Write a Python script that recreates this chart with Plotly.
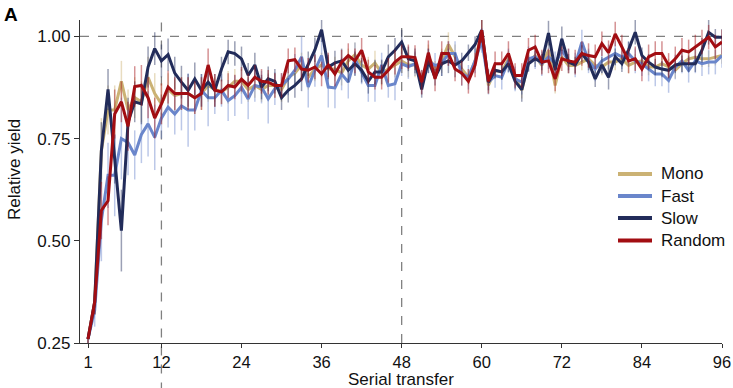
import plotly.graph_objects as go

transfers = list(range(1, 97))

mono = [0.26, 0.35, 0.72, 0.82, 0.82, 0.89, 0.82, 0.85, 0.84, 0.90,
        0.86, 0.835, 0.87, 0.855, 0.86, 0.86, 0.85, 0.86, 0.88, 0.87,
        0.865, 0.875, 0.89, 0.89, 0.87, 0.88, 0.87, 0.88, 0.88, 0.87,
        0.90, 0.91, 0.93, 0.90, 0.92, 0.93, 0.92, 0.92, 0.91, 0.94,
        0.955, 0.93, 0.92, 0.935, 0.91, 0.92, 0.93, 0.94, 0.93, 0.93,
        0.89, 0.95, 0.92, 0.94, 0.98, 0.95, 0.92, 0.90, 0.94, 1.01,
        0.88, 0.917, 0.913, 0.945, 0.90, 0.868, 0.937, 0.953, 0.929, 0.966,
        0.88, 0.95, 0.929, 0.929, 0.937, 0.945, 0.929, 0.925, 0.937, 0.937,
        0.945, 0.929, 0.937, 0.94, 0.925, 0.925, 0.933, 0.925, 0.917, 0.933,
        0.945, 0.949, 0.945, 0.945, 0.949, 0.953]

fast = [0.26, 0.33, 0.55, 0.66, 0.66, 0.75, 0.74, 0.71, 0.76, 0.786,
        0.753, 0.80, 0.827, 0.81, 0.83, 0.82, 0.82, 0.868, 0.85, 0.85,
        0.868, 0.843, 0.855, 0.875, 0.847, 0.88, 0.876, 0.847, 0.872, 0.88,
        0.896, 0.917, 0.95, 0.876, 0.917, 0.953, 0.876, 0.874, 0.908, 0.888,
        0.945, 0.913, 0.88, 0.88, 0.93, 0.88, 0.884, 0.933, 0.926, 0.933,
        0.888, 0.94, 0.929, 0.933, 0.958, 0.958, 0.909, 0.90, 0.94, 0.99,
        0.888, 0.904, 0.90, 0.94, 0.896, 0.888, 0.945, 0.95, 0.933, 0.95,
        0.933, 0.966, 0.94, 0.93, 0.986, 0.94, 0.92, 0.94, 0.95, 0.958,
        0.95, 0.958, 0.94, 0.933, 0.92, 0.908, 0.908, 0.892, 0.925, 0.94,
        0.917, 0.94, 0.933, 0.937, 0.937, 0.953]

slow = [0.26, 0.35, 0.72, 0.87, 0.70, 0.525, 0.79, 0.84, 0.835, 0.925,
        0.97, 0.94, 0.955, 0.91, 0.888, 0.868, 0.896, 0.868, 0.888, 0.868,
        0.92, 0.962, 0.958, 0.945, 0.905, 0.93, 0.876, 0.896, 0.89, 0.85,
        0.868, 0.88, 0.896, 0.933, 0.967, 1.016, 0.925, 0.935, 0.94, 0.917,
        0.933, 0.917, 0.89, 0.913, 0.913, 0.95, 0.966, 0.986, 0.945, 0.94,
        0.87, 0.94, 0.90, 0.933, 0.94, 0.93, 0.94, 0.96, 0.98, 1.015,
        0.888, 0.917, 0.913, 0.933, 0.89, 0.87, 0.933, 0.945, 0.937, 1.008,
        0.917, 0.994, 0.937, 0.93, 0.958, 0.937, 0.896, 0.93, 0.90, 0.95,
        0.933, 0.967, 1.01, 0.953, 0.937, 0.925, 0.92, 0.917, 0.93, 0.933,
        0.933, 0.933, 0.966, 1.01, 0.998, 0.998]

random_ = [0.26, 0.35, 0.574, 0.598, 0.81, 0.84, 0.78, 0.877, 0.88, 0.85,
           0.80, 0.835, 0.876, 0.86, 0.86, 0.86, 0.85, 0.86, 0.93, 0.868,
           0.864, 0.88, 0.876, 0.895, 0.88, 0.90, 0.89, 0.888, 0.88, 0.88,
           0.94, 0.943, 0.92, 0.917, 0.925, 0.908, 0.93, 0.908, 0.937, 0.953,
           0.94, 0.966, 0.913, 0.90, 0.90, 0.917, 0.937, 0.95, 0.95, 0.948,
           0.888, 0.96, 0.896, 0.958, 0.958, 0.92, 0.91, 0.89, 0.93, 1.015,
           0.89, 0.933, 0.933, 0.958, 0.904, 0.904, 0.966, 0.974, 0.937, 0.94,
           0.896, 0.945, 0.94, 0.937, 0.958, 0.953, 0.95, 0.982, 0.96, 1.006,
           0.974, 0.94, 0.945, 0.92, 0.95, 0.958, 0.958, 0.929, 0.945, 0.966,
           0.962, 0.974, 0.986, 0.998, 0.974, 0.986]

mono_err = [0.01, 0.03, 0.08, 0.06, 0.06, 0.05, 0.05, 0.05, 0.05, 0.05,
            0.05, 0.05, 0.04, 0.04, 0.04, 0.04, 0.04, 0.04, 0.04, 0.03,
            0.03, 0.04, 0.03, 0.03, 0.03, 0.03, 0.03, 0.03, 0.03, 0.03,
            0.03, 0.03, 0.03, 0.03, 0.03, 0.03, 0.03, 0.03, 0.03, 0.03,
            0.03, 0.03, 0.03, 0.03, 0.03, 0.03, 0.03, 0.03, 0.03, 0.03,
            0.02, 0.03, 0.02, 0.03, 0.03, 0.03, 0.02, 0.02, 0.02, 0.03,
            0.02, 0.02, 0.02, 0.02, 0.02, 0.02, 0.02, 0.02, 0.02, 0.02,
            0.02, 0.02, 0.02, 0.02, 0.02, 0.02, 0.02, 0.02, 0.02, 0.02,
            0.02, 0.02, 0.02, 0.02, 0.02, 0.02, 0.02, 0.02, 0.02, 0.02,
            0.02, 0.02, 0.02, 0.02, 0.02, 0.02]

fast_err = [0.01, 0.04, 0.10, 0.08, 0.10, 0.10, 0.08, 0.06, 0.07, 0.08,
            0.08, 0.05, 0.05, 0.05, 0.06, 0.09, 0.05, 0.04, 0.07, 0.04,
            0.04, 0.05, 0.05, 0.04, 0.05, 0.04, 0.04, 0.06, 0.04, 0.03,
            0.04, 0.04, 0.05, 0.05, 0.04, 0.04, 0.05, 0.05, 0.04, 0.04,
            0.04, 0.03, 0.04, 0.04, 0.03, 0.03, 0.04, 0.03, 0.03, 0.03,
            0.03, 0.03, 0.03, 0.03, 0.03, 0.03, 0.03, 0.03, 0.03, 0.03,
            0.03, 0.03, 0.03, 0.03, 0.03, 0.03, 0.03, 0.03, 0.03, 0.03,
            0.03, 0.03, 0.03, 0.03, 0.03, 0.03, 0.03, 0.03, 0.03, 0.03,
            0.03, 0.03, 0.03, 0.03, 0.03, 0.03, 0.03, 0.03, 0.03, 0.03,
            0.03, 0.03, 0.03, 0.03, 0.03, 0.03]

slow_err = [0.01, 0.03, 0.07, 0.05, 0.06, 0.10, 0.06, 0.05, 0.05, 0.05,
            0.04, 0.04, 0.04, 0.04, 0.04, 0.04, 0.04, 0.04, 0.04, 0.04,
            0.03, 0.03, 0.03, 0.03, 0.03, 0.03, 0.03, 0.03, 0.03, 0.03,
            0.03, 0.03, 0.03, 0.03, 0.03, 0.03, 0.03, 0.03, 0.03, 0.03,
            0.03, 0.03, 0.03, 0.03, 0.03, 0.03, 0.03, 0.03, 0.03, 0.03,
            0.02, 0.03, 0.02, 0.03, 0.03, 0.03, 0.02, 0.02, 0.02, 0.03,
            0.02, 0.02, 0.02, 0.02, 0.02, 0.03, 0.02, 0.02, 0.02, 0.03,
            0.02, 0.03, 0.02, 0.02, 0.02, 0.02, 0.02, 0.02, 0.03, 0.02,
            0.02, 0.02, 0.03, 0.02, 0.02, 0.02, 0.02, 0.02, 0.02, 0.02,
            0.02, 0.02, 0.03, 0.03, 0.02, 0.02]

random_err = [0.01, 0.03, 0.07, 0.06, 0.06, 0.05, 0.06, 0.05, 0.05, 0.05,
              0.05, 0.05, 0.04, 0.04, 0.04, 0.04, 0.04, 0.04, 0.04, 0.04,
              0.03, 0.03, 0.03, 0.03, 0.03, 0.03, 0.03, 0.03, 0.03, 0.03,
              0.03, 0.03, 0.03, 0.03, 0.03, 0.03, 0.03, 0.03, 0.03, 0.03,
              0.03, 0.03, 0.03, 0.03, 0.03, 0.03, 0.03, 0.03, 0.03, 0.03,
              0.03, 0.03, 0.03, 0.03, 0.03, 0.03, 0.03, 0.03, 0.03, 0.03,
              0.03, 0.03, 0.03, 0.03, 0.03, 0.03, 0.03, 0.03, 0.03, 0.03,
              0.03, 0.03, 0.03, 0.03, 0.03, 0.03, 0.03, 0.03, 0.03, 0.03,
              0.03, 0.03, 0.03, 0.03, 0.03, 0.03, 0.03, 0.03, 0.03, 0.03,
              0.03, 0.03, 0.03, 0.03, 0.03, 0.03]

x_ticks = [1, 12, 24, 36, 48, 60, 72, 84, 96]
y_ticks = [0.25, 0.50, 0.75, 1.00]

series = [
    ("Mono", mono, mono_err, "#CBB274", "rgba(203,178,116,0.45)"),
    ("Fast", fast, fast_err, "#6A86CB", "rgba(106,134,203,0.45)"),
    ("Slow", slow, slow_err, "#222C5A", "rgba(34,44,90,0.45)"),
    ("Random", random_, random_err, "#A20D12", "rgba(162,13,18,0.45)"),
]

# figure geometry (pixels) used to place the hand-made legend
W, H = 733, 388
ML, MR, MT, MB = 80, 11, 20, 45
PW, PH = W - ML - MR, H - MT - MB


def px_x(p):
    return (p - ML) / PW


def px_y(p):
    return (H - MB - p) / PH


fig = go.Figure()
for name, vals, errs, col, ecol in series:
    fig.add_trace(go.Scatter(
        x=transfers, y=vals, name=name, mode="lines",
        line=dict(color=col, width=3), showlegend=False,
        error_y=dict(type="data", array=errs, visible=True,
                     color=ecol, thickness=1.5, width=0),
    ))

dash_col = "#808080"
fig.add_shape(type="line", xref="paper", yref="y", x0=0, x1=1, y0=1.0, y1=1.0,
              line=dict(color=dash_col, width=1.3, dash="dash"), layer="below")
fig.add_shape(type="line", xref="x", yref="paper", x0=12, x1=12, y0=-0.15, y1=1,
              line=dict(color=dash_col, width=1.3, dash="dash"), layer="below")
fig.add_shape(type="line", xref="x", yref="paper", x0=48, x1=48, y0=0, y1=1,
              line=dict(color=dash_col, width=1.3, dash="dash"), layer="below")

# legend (drawn by hand so it does not push the margins)
legend_rows = [174, 196, 218, 240.5]
for (name, _v, _e, col, _ec), row in zip(series, legend_rows):
    fig.add_shape(type="line", xref="paper", yref="paper",
                  x0=px_x(618), x1=px_x(652), y0=px_y(row), y1=px_y(row),
                  line=dict(color=col, width=4))
    fig.add_annotation(text=name, xref="paper", yref="paper",
                       x=px_x(659), y=px_y(row), xanchor="left", yanchor="middle",
                       showarrow=False, font=dict(size=17, color="#111"))

fig.add_annotation(text="<b>A</b>", xref="paper", yref="paper",
                   x=-0.122, y=1.055, xanchor="left", yanchor="top",
                   showarrow=False, font=dict(size=19, color="black"))
fig.add_annotation(text="Serial transfer", xref="paper", yref="paper",
                   x=0.5, y=px_y(391), xanchor="center", yanchor="bottom",
                   showarrow=False, font=dict(size=17, color="#111"))
fig.add_annotation(text="Relative yield", xref="paper", yref="paper",
                   x=px_x(14), y=px_y(170), xanchor="center", yanchor="middle",
                   textangle=-90, showarrow=False,
                   font=dict(size=17, color="#111"))

fig.update_layout(
    width=W, height=H,
    margin=dict(l=ML, r=MR, t=MT, b=MB),
    plot_bgcolor="white", paper_bgcolor="white",
    font=dict(family="Liberation Sans, Arial, sans-serif", size=16, color="#111"),
    showlegend=False,
    xaxis=dict(range=[-0.2, 96], tickmode="array", tickvals=x_ticks,
               ticks="outside", ticklen=4, tickwidth=1.3, tickcolor="#333",
               showline=True, linecolor="#333", linewidth=1.3,
               showgrid=False, zeroline=False, automargin=False,
               tickfont=dict(size=16.5)),
    yaxis=dict(range=[0.25, 1.04], tickmode="array", tickvals=y_ticks,
               tickformat=".2f",
               ticks="outside", ticklen=5, tickwidth=1.3, tickcolor="#333",
               showline=True, linecolor="#333", linewidth=1.3,
               showgrid=False, zeroline=False, automargin=False,
               tickfont=dict(size=17)),
)

fig.write_html("out.html")
